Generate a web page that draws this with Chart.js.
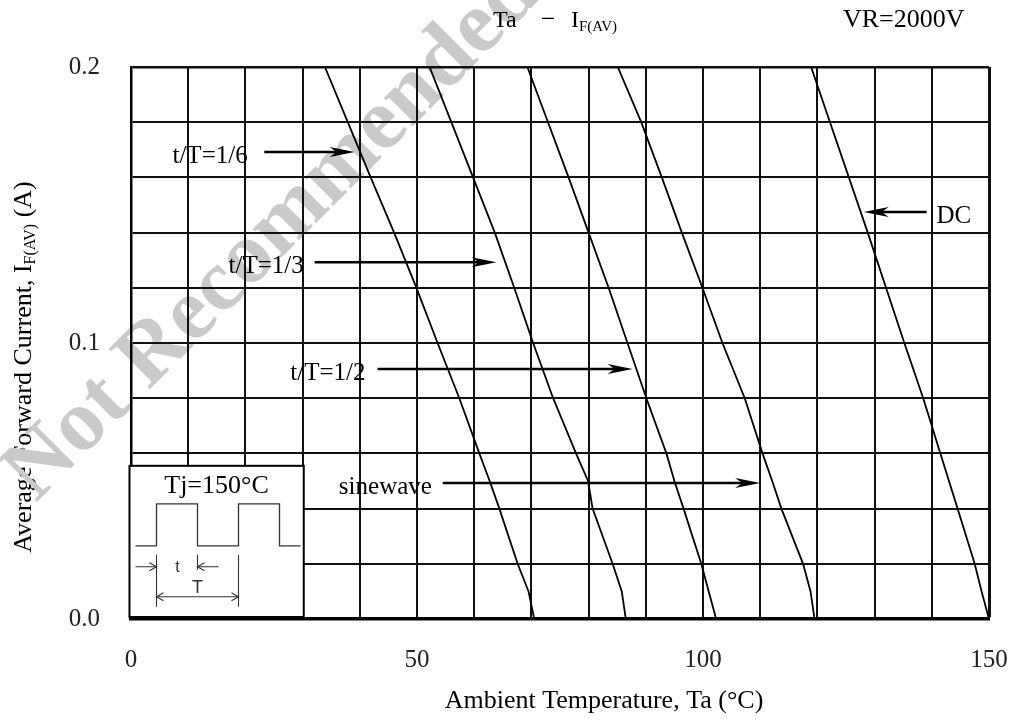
<!DOCTYPE html>
<html>
<head>
<meta charset="utf-8">
<script src="https://cdn.jsdelivr.net/npm/chart.js@4.4.1/dist/chart.umd.min.js"></script>
<style>
  html, body { margin: 0; padding: 0; background: #ffffff; }
  canvas { display: block; }
</style>
</head>
<body>
<canvas id="deratingChart" width="1015" height="720"></canvas>
<script>
const currentLevels = [0.2, 0.18, 0.16, 0.14, 0.12, 0.10, 0.08, 0.06, 0.05, 0.04, 0.02, 0.01, 0];
// ambient temperature (°C) of each curve at those levels
const tempDuty16 = [33.9, 37.9, 41.9, 46.0, 49.9, 53.6, 57.4, 60.9, 62.7, 64.4, 67.6, 69.5, 70.5];
const tempDuty13 = [52.2, 56.0, 59.8, 63.6, 67.0, 70.3, 73.8, 77.8, 79.9, 80.7, 84.2, 85.8, 86.5];
const tempDuty12 = [69.3, 72.9, 76.5, 80.0, 83.5, 86.8, 90.1, 93.6, 95.0, 96.6, 99.7, 101.0, 102.3];
const tempSine = [85.1, 89.2, 92.8, 96.3, 99.9, 103.4, 107.3, 110.4, 112.1, 113.7, 117.5, 118.8, 119.5];
const tempDC = [118.9, 122.2, 125.5, 128.8, 132.0, 135.2, 138.5, 141.5, 143.0, 144.5, 147.5, 148.7, 150];

const xTickLabels = [0, 50, 100, 150];
const yTickLabels = [0.0, 0.1, 0.2];

const serif = (size, weight) => `${weight || ''} ${size}px "Liberation Serif", "Times New Roman", serif`;

function toPoints(temps) {
    return temps.map((t, i) => ({ x: t, y: currentLevels[i] }));
}

// arrow call-outs, placed in data units
const arrowNotes = [
    { text: 't/T=1/6', y: 0.1692, from: 23.3, to: 39.1, textAt: 20.4 },
    { text: 't/T=1/3', y: 0.1293, from: 32.1, to: 63.9, textAt: 30.2 },
    { text: 't/T=1/2', y: 0.0906, from: 43.1, to: 87.7, textAt: 41.0 },
    { text: 'sinewave', y: 0.0493, from: 54.5, to: 110.0, textAt: 52.6 },
    { text: 'DC', y: 0.1475, from: 139.1, to: 128.1, textAt: 140.8 }
];
const insetBox = { x0: 0, x1: 30.2, y0: 0, y1: 0.0555 };

function arrowHead(ctx, x, y, dir) {
    ctx.beginPath();
    ctx.moveTo(x, y);
    ctx.lineTo(x - dir * 25, y - 5);
    ctx.lineTo(x - dir * 18, y);
    ctx.lineTo(x - dir * 25, y + 5);
    ctx.closePath();
    ctx.fill();
}

function openHead(ctx, x, y, dir) {
    ctx.beginPath();
    ctx.moveTo(x - dir * 7, y - 4);
    ctx.lineTo(x, y);
    ctx.lineTo(x - dir * 7, y + 4);
    ctx.stroke();
}

const backdrop = {
    id: 'backdrop',
    beforeDraw(chart) {
        const ctx = chart.ctx;
        ctx.save();
        ctx.fillStyle = '#000';
        ctx.textBaseline = 'alphabetic';

        // x axis title
        ctx.textAlign = 'center';
        ctx.font = serif(26);
        ctx.fillText('Ambient Temperature, Ta (\u00B0C)', 604, 708);

        // y axis title (rotated, with subscript)
        ctx.save();
        ctx.translate(31, 367);
        ctx.rotate(-Math.PI / 2);
        ctx.textAlign = 'left';
        ctx.font = serif(26);
        const partA = 'Average Forward Current, I';
        const partC = ' (A)';
        const wA = ctx.measureText(partA).width;
        const wC = ctx.measureText(partC).width;
        ctx.font = serif(16);
        const wB = ctx.measureText('F(AV)').width;
        const sx = -(wA + wB + wC) / 2;
        ctx.font = serif(26);
        ctx.fillText(partA, sx, 0);
        ctx.font = serif(16);
        ctx.fillText('F(AV)', sx + wA, 4);
        ctx.font = serif(26);
        ctx.fillText(partC, sx + wA + wB, 0);
        ctx.restore();

        // watermark
        ctx.save();
        ctx.translate(289, 250);
        ctx.rotate(-Math.PI / 4);
        ctx.font = serif(88, 'bold');
        ctx.fillStyle = '#cacaca';
        ctx.textAlign = 'center';
        ctx.fillText('Not Recommended', 0, 0);
        ctx.restore();

        // top caption, above the watermark
        ctx.fillStyle = '#000';
        ctx.textAlign = 'left';
        ctx.font = serif(24);
        ctx.fillText('Ta', 493, 27);
        ctx.textAlign = 'center';
        ctx.font = serif(26);
        ctx.fillText('\u2212', 548, 27);
        ctx.textAlign = 'left';
        ctx.font = serif(24);
        ctx.fillText('I', 571, 27);
        ctx.font = serif(15);
        ctx.fillText('F(AV)', 579, 31);
        ctx.font = serif(26);
        ctx.fillText('VR=2000V', 843, 27);

        ctx.restore();
    },
    afterDraw(chart) {
        const { ctx, scales: { x, y } } = chart;
        ctx.save();

        // call-out arrows
        arrowNotes.forEach(n => {
            const py = y.getPixelForValue(n.y);
            const x1 = x.getPixelForValue(n.from);
            const x2 = x.getPixelForValue(n.to);
            const dir = x2 > x1 ? 1 : -1;
            ctx.strokeStyle = '#000';
            ctx.fillStyle = '#000';
            ctx.lineWidth = 2.5;
            ctx.beginPath();
            ctx.moveTo(x1, py);
            ctx.lineTo(x2 - dir * 18, py);
            ctx.stroke();
            arrowHead(ctx, x2, py, dir);
            ctx.font = serif(25);
            ctx.textBaseline = 'alphabetic';
            ctx.textAlign = dir > 0 ? 'right' : 'left';
            ctx.fillText(n.text, x.getPixelForValue(n.textAt), py + 11);
        });

        // inset with the pulse sketch
        const L = x.getPixelForValue(insetBox.x0) - 1.5;
        const R = x.getPixelForValue(insetBox.x1);
        const T = y.getPixelForValue(insetBox.y1);
        const B = y.getPixelForValue(insetBox.y0) - 2;
        ctx.fillStyle = '#fff';
        ctx.fillRect(L, T, R - L, B - T);
        ctx.strokeStyle = '#000';
        ctx.lineWidth = 2;
        ctx.strokeRect(L, T, R - L, B - T);

        ctx.fillStyle = '#000';
        ctx.font = serif(26);
        ctx.textAlign = 'center';
        ctx.fillText('Tj=150\u00B0C', L + 87, T + 27);

        ctx.strokeStyle = '#333';
        ctx.lineWidth = 1.3;
        ctx.beginPath();
        ctx.moveTo(L + 6, T + 80);
        ctx.lineTo(L + 27, T + 80);
        ctx.lineTo(L + 27, T + 38);
        ctx.lineTo(L + 68, T + 38);
        ctx.lineTo(L + 68, T + 80);
        ctx.lineTo(L + 109, T + 80);
        ctx.lineTo(L + 109, T + 38);
        ctx.lineTo(L + 150, T + 38);
        ctx.lineTo(L + 150, T + 80);
        ctx.lineTo(L + 171, T + 80);
        ctx.stroke();

        ctx.lineWidth = 1.1;
        ctx.beginPath();
        ctx.moveTo(L + 27, T + 89); ctx.lineTo(L + 27, T + 141);
        ctx.moveTo(L + 68, T + 89); ctx.lineTo(L + 68, T + 104);
        ctx.moveTo(L + 109, T + 89); ctx.lineTo(L + 109, T + 141);
        ctx.moveTo(L + 6, T + 101); ctx.lineTo(L + 27, T + 101);
        ctx.moveTo(L + 89, T + 101); ctx.lineTo(L + 68, T + 101);
        ctx.moveTo(L + 27, T + 131); ctx.lineTo(L + 109, T + 131);
        ctx.stroke();
        openHead(ctx, L + 27, T + 101, 1);
        openHead(ctx, L + 68, T + 101, -1);
        openHead(ctx, L + 27, T + 131, -1);
        openHead(ctx, L + 109, T + 131, 1);

        ctx.fillStyle = '#333';
        ctx.font = '16px "Liberation Sans", Arial, sans-serif';
        ctx.fillText('t', L + 48, T + 106);
        ctx.font = '18px "Liberation Sans", Arial, sans-serif';
        ctx.fillText('T', L + 68, T + 127);

        ctx.restore();
    }
};

const curveStyle = { borderColor: '#000', borderWidth: 1.8, pointRadius: 0, tension: 0, fill: false };

const ctx = document.getElementById('deratingChart').getContext('2d');
const deratingChart = new Chart(ctx, {
    type: 'line',
    data: {
        datasets: [
            { label: 't/T=1/6', data: toPoints(tempDuty16), ...curveStyle },
            { label: 't/T=1/3', data: toPoints(tempDuty13), ...curveStyle },
            { label: 't/T=1/2', data: toPoints(tempDuty12), ...curveStyle },
            { label: 'sinewave', data: toPoints(tempSine), ...curveStyle },
            { label: 'DC', data: toPoints(tempDC), ...curveStyle }
        ]
    },
    options: {
        responsive: false,
        animation: false,
        layout: { padding: { top: 67, right: 26, bottom: 0, left: 0 } },
        plugins: {
            legend: { display: false },
            tooltip: { enabled: false }
        },
        scales: {
            x: {
                type: 'linear',
                min: 0,
                max: 150,
                ticks: {
                    stepSize: 10,
                    autoSkip: false,
                    maxRotation: 0,
                    padding: 26,
                    color: '#222',
                    font: { family: '"Liberation Serif", serif', size: 25 },
                    callback: v => xTickLabels.includes(v) ? String(v) : ''
                },
                grid: {
                    color: '#111',
                    lineWidth: c => c.tick && c.tick.value === 150 ? 3 : 2,
                    drawTicks: false
                },
                border: { color: '#000', width: 3.5 },
                afterFit: s => {
                    s.height = 101;
                    s.paddingLeft = 0;
                    s.paddingRight = 0;
                }
            },
            y: {
                min: 0,
                max: 0.2,
                ticks: {
                    stepSize: 0.02,
                    padding: 31,
                    color: '#222',
                    font: { family: '"Liberation Serif", serif', size: 25 },
                    callback: v => {
                        const hit = yTickLabels.find(t => Math.abs(t - v) < 1e-9);
                        return hit === undefined ? '' : hit.toFixed(1);
                    }
                },
                grid: {
                    color: '#111',
                    lineWidth: c => c.tick && Math.abs(c.tick.value - 0.2) < 1e-9 ? 2.5 : 2,
                    drawTicks: false
                },
                border: { color: '#000', width: 2.5 },
                afterFit: s => { s.width = 131; }
            }
        }
    },
    plugins: [backdrop]
});
</script>
</body>
</html>
